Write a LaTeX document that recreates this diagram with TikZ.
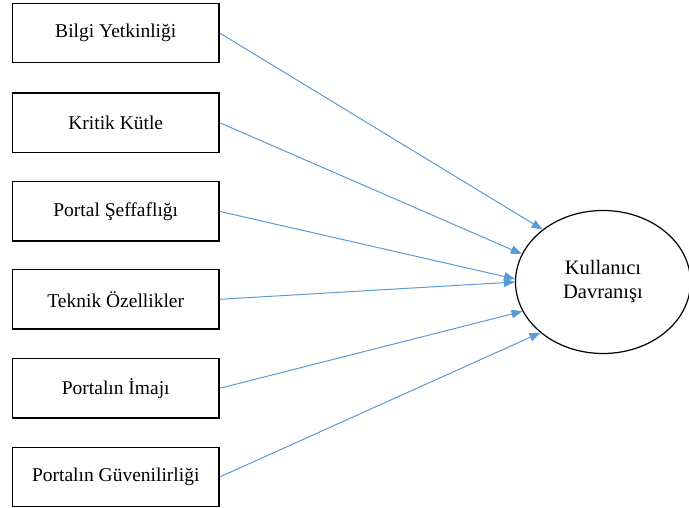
\documentclass[tikz,border=0pt]{standalone}
\usepackage{fontspec}
\setmainfont{Liberation Serif}
\usetikzlibrary{shapes.geometric,arrows.meta}
\definecolor{linkblue}{HTML}{5B9BD5}
\begin{document}
\begin{tikzpicture}[x=1pt,y=-1pt,
  factor/.style={draw=black,line width=1.3pt,minimum width=206.5pt,minimum height=59.5pt,
    inner sep=0pt,font=\fontsize{19.5}{23}\selectfont},
  outcome/.style={draw=black,line width=1.2pt,ellipse,minimum width=175pt,minimum height=143pt,
    inner sep=0pt,align=center,font=\fontsize{20.5}{24}\selectfont},
  link/.style={draw=linkblue,line width=1pt,-{Triangle[length=11pt,width=8.5pt]}}]
\useasboundingbox (0,0) rectangle (689,508);

% explanatory factors
\node[factor] (f1) at (115.75,33)    {Bilgi Yetkinliği};
\node[factor] (f2) at (115.75,122.7) {Kritik Kütle};
\node[factor] (f3) at (115.75,211.4) {Portal Şeffaflığı};
\node[factor] (f4) at (115.75,299.3) {Teknik Özellikler};
\node[factor] (f5) at (115.75,388.3) {Portalın İmajı};
\node[factor] (f6) at (115.75,477)   {Portalın Güvenilirliği};

% dependent construct
\node[outcome] (kd) at (603,282) {Kullanıcı\\Davranışı};

% paths from each factor to the construct
\draw[link] (f1.east) -- (kd.139.7);
\draw[link] (f2.east) -- (kd.161.1);
\draw[link] (f3.east) -- (kd.178.5);
\draw[link] (f4.east) -- (kd.180.5);
\draw[link] (f5.east) -- (kd.200.4);
\draw[link] (f6.east) -- (kd.219.9);
\end{tikzpicture}
\end{document}
